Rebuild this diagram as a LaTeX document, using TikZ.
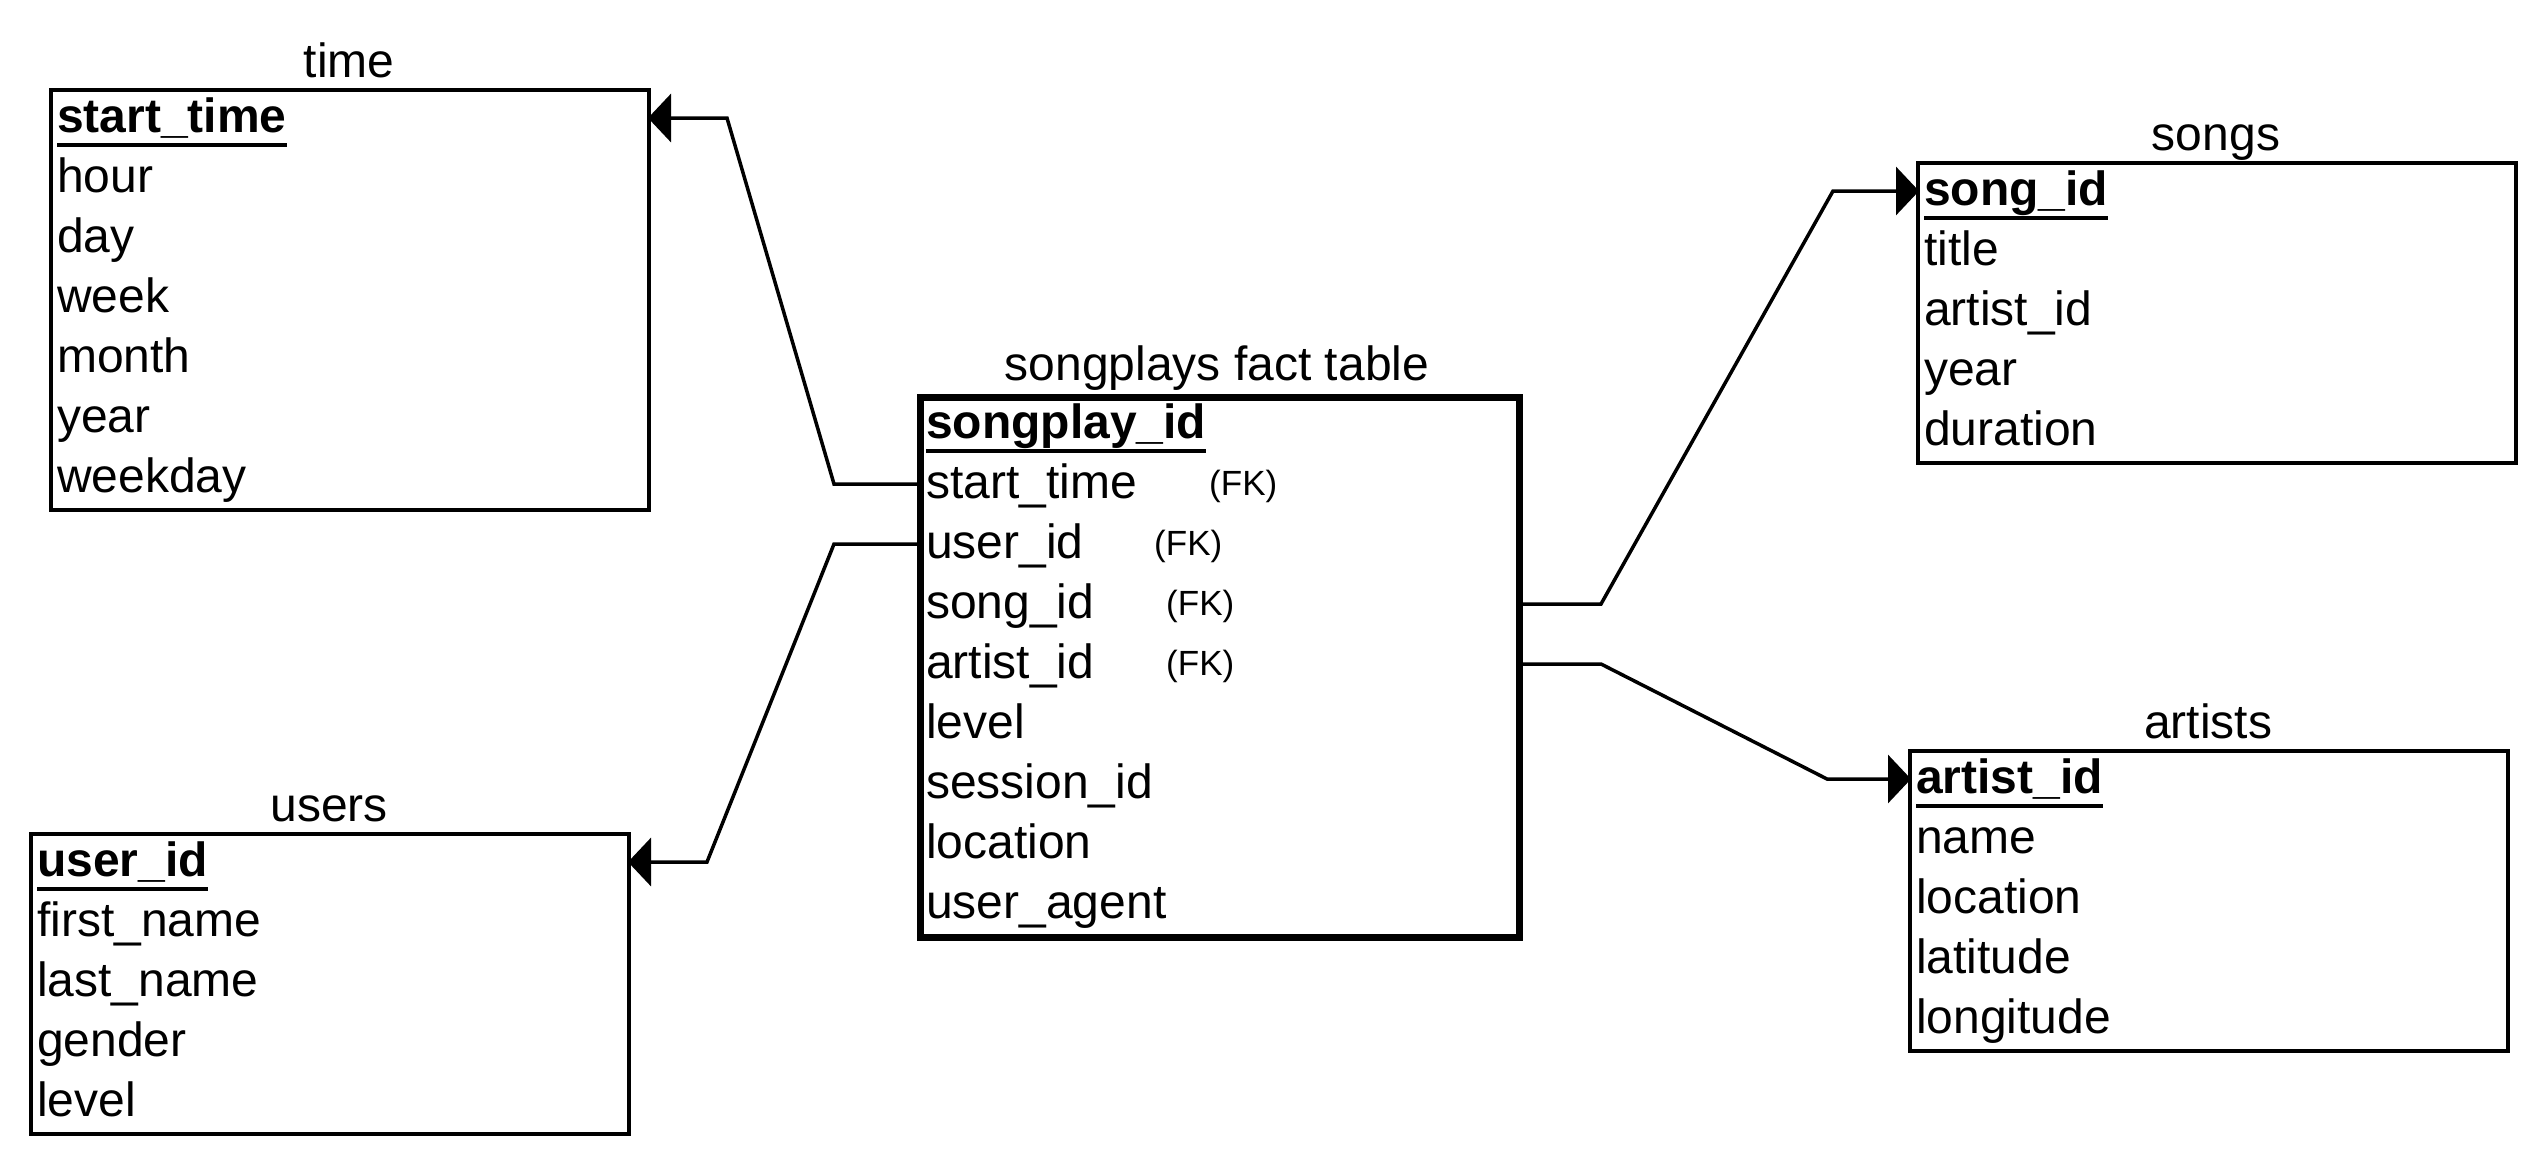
\documentclass[tikz,border=0pt]{standalone}
\usepackage{fontspec}
\setmainfont{Liberation Sans}
\usetikzlibrary{arrows.meta}
\begin{document}
\begin{tikzpicture}[x=1pt,y=-1pt,
  tbl/.style={draw, line width=4pt, inner sep=0pt, anchor=north west, minimum width=598pt},
  fact/.style={tbl, line width=7pt, minimum width=599pt},
  fld/.style={anchor=base west, inner sep=0pt, font=\fontsize{48}{58}\selectfont},
  pk/.style={anchor=base west, inner sep=0pt, font=\fontsize{48}{58}\selectfont\bfseries},
  fk/.style={anchor=base west, inner sep=0pt, font=\fontsize{35}{42}\selectfont},
  ttl/.style={anchor=base, inner sep=0pt, font=\fontsize{48}{58}\selectfont},
  conn/.style={line width=3.5pt, line join=miter},
  arr/.style={conn, -{Triangle[length=23pt,width=48pt]}, shorten >=-3pt},
  ul/.style={line width=3.5pt}
]
\useasboundingbox (0,0) rectangle (2544,1160);

% ---------- time ----------
\node[tbl, minimum height=420pt] (time) at (49,88) {};
\node[ttl] (time-t) at (349,77) {time};
\node[pk] (time-0) at (57,132) {start\_time};
\draw[ul] ([yshift=-13pt]time-0.base west) -- ([yshift=-13pt]time-0.base east);
\foreach \f [count=\i] in {hour,day,week,month,year,weekday}
  \node[fld] (time-\i) at (57,{132+60*\i}) {\f};
\coordinate (time-r0) at (0,118);

% ---------- users ----------
\node[tbl, minimum height=300pt] (users) at (29,832) {};
\node[ttl] (users-t) at (329,821) {users};
\node[pk] (users-0) at (37,876) {user\_id};
\draw[ul] ([yshift=-13pt]users-0.base west) -- ([yshift=-13pt]users-0.base east);
\foreach \f [count=\i] in {first\_name,last\_name,gender,level}
  \node[fld] (users-\i) at (37,{876+60*\i}) {\f};
\coordinate (users-r0) at (0,862);

% ---------- songs ----------
\node[tbl, minimum height=300pt] (songs) at (1916,161) {};
\node[ttl] (songs-t) at (2216,150) {songs};
\node[pk] (songs-0) at (1924,205) {song\_id};
\draw[ul] ([yshift=-13pt]songs-0.base west) -- ([yshift=-13pt]songs-0.base east);
\foreach \f [count=\i] in {title,artist\_id,year,duration}
  \node[fld] (songs-\i) at (1924,{205+60*\i}) {\f};
\coordinate (songs-r0) at (0,191);

% ---------- artists ----------
\node[tbl, minimum height=300pt] (artists) at (1908,749) {};
\node[ttl] (artists-t) at (2208,738) {artists};
\node[pk] (artists-0) at (1916,793) {artist\_id};
\draw[ul] ([yshift=-13pt]artists-0.base west) -- ([yshift=-13pt]artists-0.base east);
\foreach \f [count=\i] in {name,location,latitude,longitude}
  \node[fld] (artists-\i) at (1916,{793+60*\i}) {\f};
\coordinate (artists-r0) at (0,779);

% ---------- songplays ----------
\node[fact, minimum height=540pt] (sp) at (917,394) {};
\node[ttl] (sp-t) at (1217,380) {songplays fact table};
\node[pk] (sp-0) at (926,438) {songplay\_id};
\draw[ul] ([yshift=-13pt]sp-0.base west) -- ([yshift=-13pt]sp-0.base east);
\foreach \f [count=\i] in {start\_time,user\_id,song\_id,artist\_id,level,session\_id,location,user\_agent}
  \node[fld] (sp-\i) at (926,{438+60*\i}) {\f};
\node[fk] (fk1) at (1209,495) {(FK)};
\node[fk] (fk2) at (1154,555) {(FK)};
\node[fk] (fk3) at (1166,615) {(FK)};
\node[fk] (fk4) at (1166,675) {(FK)};
\coordinate (sp-r1) at (0,484);
\coordinate (sp-r2) at (0,544);
\coordinate (sp-r3) at (0,604);
\coordinate (sp-r4) at (0,664);

% ---------- bends ----------
\coordinate (b-time) at (727,118);
\coordinate (b-users) at (707,862);
\coordinate (b-songs) at (1833,191);
\coordinate (b-artists) at (1827,779);

% ---------- connectors ----------
\draw[arr] (sp.west |- sp-r1) -- ++(-83,0) -- (b-time) -- (time.east |- time-r0);
\draw[arr] (sp.west |- sp-r2) -- ++(-83,0) -- (b-users) -- (users.east |- users-r0);
\draw[arr] (sp.east |- sp-r3) -- ++(78,0) -- (b-songs) -- (songs.west |- songs-r0);
\draw[arr] (sp.east |- sp-r4) -- ++(78,0) -- (b-artists) -- (artists.west |- artists-r0);
\end{tikzpicture}
\end{document}
